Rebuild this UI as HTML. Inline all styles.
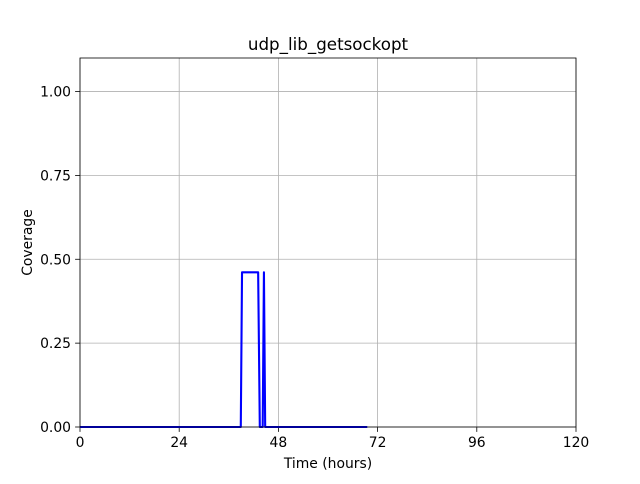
<!DOCTYPE html>
<html><head><meta charset="utf-8"><style>
body{margin:0;background:#fff;font-family:"DejaVu Sans","Liberation Sans",sans-serif;}
svg text{font-family:"DejaVu Sans","Liberation Sans",sans-serif;}
</style></head><body>
<svg id="c" width="640" height="480"></svg>
<script>
const xTicks=[0,24,48,72,96,120];
const yTicks=[0.00,0.25,0.50,0.75,1.00];
const timeHours=[0,38.9,39.2,43.1,43.5,44.2,44.5,44.8,69.5];
const coverage=[0,0,0.461,0.461,0,0,0.461,0,0];
const L=80,R=576,T=58,B=427;
const X=v=>L+(v-0)/120*(R-L);
const Y=v=>B-(v-0)/1.1*(B-T);
const svg=document.getElementById('c');
const NS='http://www.w3.org/2000/svg';
function mk(t,a,txt){const e=document.createElementNS(NS,t);for(const k in a)e.setAttribute(k,a[k]);if(txt!==undefined)e.textContent=txt;svg.appendChild(e);return e;}
xTicks.forEach(t=>{
const g=mk('line',{x1:X(t),x2:X(t),y1:T,y2:B,stroke:'#b0b0b0','stroke-width':0.8});


mk('line',{x1:X(t),x2:X(t),y1:B,y2:B+4.9,stroke:'#000','stroke-width':0.8});
const l=mk('text',{x:X(t),y:B+20,'text-anchor':'middle','font-size':13.9},String(t));


});
yTicks.forEach(t=>{
const g=mk('line',{x1:L,x2:R,y1:Y(t),y2:Y(t),stroke:'#b0b0b0','stroke-width':0.8});


mk('line',{x1:L-4.9,x2:L,y1:Y(t),y2:Y(t),stroke:'#000','stroke-width':0.8});
const l=mk('text',{x:L-9,y:Y(t)+5,'text-anchor':'end','font-size':13.9},t.toFixed(2));


});
const pts=timeHours.map((h,i)=>X(h)+','+Y(coverage[i])).join(' ');
const line=mk('polyline',{points:pts,fill:'none',stroke:'#0000ff','stroke-width':2.1,'stroke-linejoin':'round'});


const f=mk('rect',{x:L,y:T,width:R-L,height:B-T,fill:'none',stroke:'#000','stroke-width':0.8});


const ti=mk('text',{x:(L+R)/2,y:50,'text-anchor':'middle','font-size':16.7},'udp_lib_getsockopt');


const xl=mk('text',{x:(L+R)/2,y:468,'text-anchor':'middle','font-size':13.9},'Time (hours)');


const yl=mk('text',{x:32,y:(T+B)/2,'text-anchor':'middle','font-size':13.9,transform:'rotate(-90 32 '+((T+B)/2)+')'},'Coverage');


</script>
</body></html>
